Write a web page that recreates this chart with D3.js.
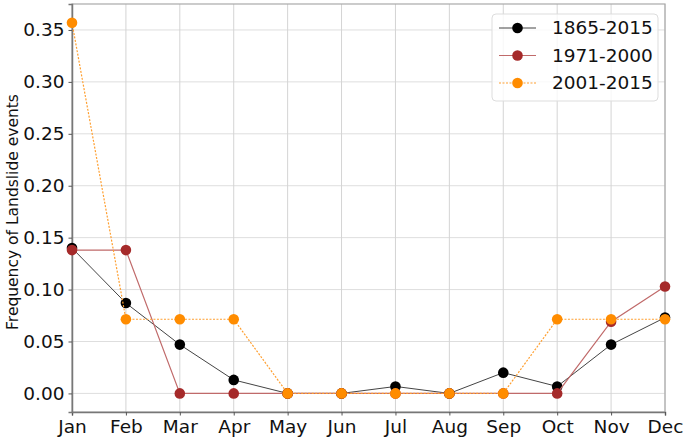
<!DOCTYPE html>
<html>
<head>
<meta charset="utf-8">
<script src="https://cdn.jsdelivr.net/npm/d3@7"></script>
<style>
  body { margin: 0; background: #fff; }
  text { font-family: "DejaVu Sans", sans-serif; fill: #111; }
</style>
</head>
<body>
<svg id="chart" width="685" height="440"></svg>
<script>
// data
var months = ["Jan","Feb","Mar","Apr","May","Jun","Jul","Aug","Sep","Oct","Nov","Dec"];
var yTicks = [0, 0.05, 0.10, 0.15, 0.20, 0.25, 0.30, 0.35];
var freqAll    = [0.140, 0.087, 0.047, 0.013, 0, 0, 0.0067, 0, 0.020, 0.0067, 0.047, 0.073];
var freq7100   = [0.138, 0.138, 0, 0, 0, 0, 0, 0, 0, 0, 0.069, 0.103];
var freq0115   = [0.357, 0.0714, 0.0714, 0.0714, 0, 0, 0, 0, 0, 0.0714, 0.0714, 0.0714];
var seriesNames = ["1865-2015", "1971-2000", "2001-2015"];

var series = [
  {name: seriesNames[0], values: freqAll,  color: "#000000", line: "#444", width: 1, dash: null},
  {name: seriesNames[1], values: freq7100, color: "#a52a2a", line: "#c06a6a", width: 1.2, dash: null},
  {name: seriesNames[2], values: freq0115, color: "#ff8c00", line: "#ff9f30", width: 1.2, dash: "2,1.5"}
];

var margin = {left: 72, right: 665, top: 4, bottom: 412};

var svg = d3.select("#chart");

var x = d3.scalePoint().domain(months).range([margin.left, margin.right]).padding(0);
var y = d3.scaleLinear().domain([-0.0179, 0.375]).range([margin.bottom, margin.top]);

//grid
var grid = svg.append("g").attr("class", "grid");
grid.selectAll("line.h").data(yTicks).enter().append("line")
  .attr("x1", margin.left).attr("x2", margin.right)
  .attr("y1", function(d) { return y(d); })
  .attr("y2", function(d) { return y(d); })
  .attr("stroke", "#dedede").attr("stroke-width", 1);
grid.selectAll("line.v").data(months).enter().append("line")
  .attr("y1", margin.top).attr("y2", margin.bottom)
  .attr("x1", function(d) { return x(d); })
  .attr("x2", function(d) { return x(d); })
  .attr("stroke", "#d4d4d4").attr("stroke-width", 1);

//frame
svg.append("rect")
  .attr("x", margin.left).attr("y", margin.top)
  .attr("width", margin.right - margin.left).attr("height", margin.bottom - margin.top)
  .attr("fill", "none").attr("stroke", "#aaa").attr("stroke-width", 1.2);

//axes
var xAxis = svg.append("g")
  .attr("transform", "translate(0," + margin.bottom + ")")
  .call(d3.axisBottom(x).tickSize(3.5).tickPadding(4));
var yAxis = svg.append("g")
  .attr("transform", "translate(" + margin.left + ",0)")
  .call(d3.axisLeft(y).tickValues(yTicks).tickFormat(d3.format(".2f")).tickSize(3.5).tickPadding(4));

[xAxis, yAxis].forEach(function(a) {
  a.select(".domain").attr("stroke", "#777").attr("stroke-width", 1.5);
  a.selectAll(".tick line").attr("stroke", "#555");
  a.selectAll(".tick text").attr("font-family", "DejaVu Sans").attr("font-size", 18.5).attr("fill", "#111");
});

svg.append("text")
  .attr("transform", "translate(13,212) rotate(-90)")
  .attr("text-anchor", "middle")
  .attr("dy", "0.35em")
  .attr("font-size", 15.5)
  .text("Frequency of Landslide events");

//lines and markers
var line = d3.line()
  .x(function(d, i) { return x(months[i]); })
  .y(function(d) { return y(d); });

series.forEach(function(s) {
  var g = svg.append("g");
  g.append("path")
    .datum(s.values)
    .attr("d", line)
    .attr("fill", "none")
    .attr("stroke", s.line)
    .attr("stroke-width", s.width)
    .attr("stroke-dasharray", s.dash);
  g.selectAll("circle").data(s.values).enter().append("circle")
    .attr("cx", function(d, i) { return x(months[i]); })
    .attr("cy", function(d) { return y(d); })
    .attr("r", 5.3)
    .attr("fill", s.color);
});

//legend
var leg = svg.append("g").attr("transform", "translate(492,14)");
leg.append("rect")
  .attr("width", 166).attr("height", 87).attr("rx", 4)
  .attr("fill", "#fff").attr("fill-opacity", 0.8)
  .attr("stroke", "#ddd");
series.forEach(function(s, i) {
  var yy = 14 + i * 27.5;
  leg.append("line")
    .attr("x1", 7).attr("x2", 44).attr("y1", yy).attr("y2", yy)
    .attr("stroke", s.line).attr("stroke-width", s.width)
    .attr("stroke-dasharray", s.dash);
  leg.append("circle").attr("cx", 25.5).attr("cy", yy).attr("r", 5.3).attr("fill", s.color);
  leg.append("text")
    .attr("x", 60).attr("y", yy).attr("dy", "0.35em")
    .attr("font-size", 18.5)
    .text(s.name);
});
</script>
</body>
</html>
